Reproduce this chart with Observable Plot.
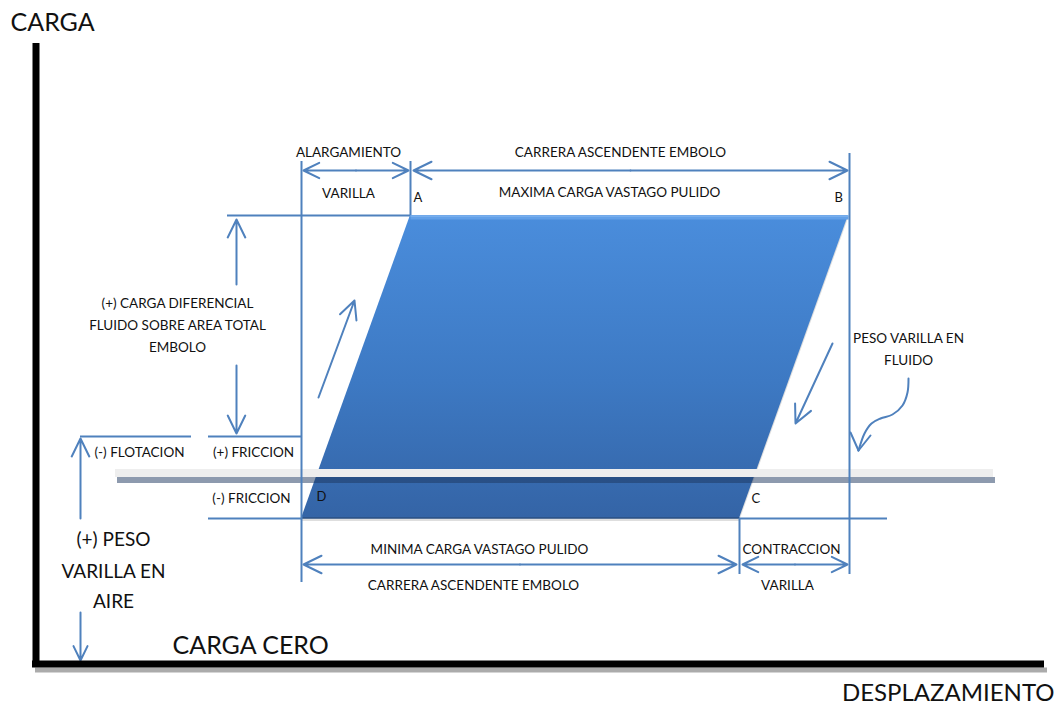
<!DOCTYPE html>
<html><head><meta charset="utf-8">
<script src="https://cdn.jsdelivr.net/npm/d3@7"></script>
<script src="https://cdn.jsdelivr.net/npm/@observablehq/plot@0.6"></script>
<style>
html,body{margin:0;padding:0;background:#fff;}
#chart{width:1061px;height:707px;overflow:hidden;}
</style></head><body><div id="chart"></div>
<script>
// ---- Diagram data (displacement along x, load along y; y grows downward) ----
const cardVertices = [
  {name: "A", x: 410, y: 215},
  {name: "B", x: 848, y: 215},
  {name: "C", x: 739, y: 518},
  {name: "D", x: 301, y: 518}
];
const vertexLabels = [
  {text: "A", x: 413, y: 197},
  {text: "B", x: 834, y: 197},
  {text: "D", x: 316, y: 496},
  {text: "C", x: 751, y: 498}
];
const loadAxis = [{x: 35.5, y1: 43, y2: 664}];
const dispAxis = [{y: 663.5, x1: 32, x2: 1044}];
const zeroBar = [{x1: 115, x2: 993, y1: 469, y2: 477}];
const zeroBarShade = [{x1: 117, x2: 995, y1: 477, y2: 483}];

const guideV = [
  {x: 301, y1: 161, y2: 582},
  {x: 410, y1: 161, y2: 215},
  {x: 849, y1: 153, y2: 574},
  {x: 739, y1: 518, y2: 574}
];
const guideH = [
  {y: 215, x1: 227, x2: 410},
  {y: 436, x1: 80, x2: 191},
  {y: 436, x1: 208, x2: 301},
  {y: 518, x1: 208, x2: 301},
  {y: 518, x1: 739, x2: 887}
];
const dimensions = [
  {y: 170, x1: 303, x2: 408},
  {y: 170, x1: 413, x2: 847},
  {y: 564, x1: 303, x2: 736},
  {y: 564, x1: 742, x2: 847}
];
const singleArrows = [
  {x1: 236, y1: 284, x2: 236, y2: 219},
  {x1: 236, y1: 365, x2: 236, y2: 433},
  {x1: 80, y1: 518, x2: 80, y2: 438},
  {x1: 80, y1: 612, x2: 80, y2: 660},
  {x1: 318, y1: 397, x2: 354, y2: 300},
  {x1: 832, y1: 343, x2: 795, y2: 423}
];
const curvyPath = [
  {x: 908, y: 378}, {x: 907, y: 392}, {x: 902, y: 405}, {x: 892, y: 414},
  {x: 880, y: 418}, {x: 871, y: 423}, {x: 864, y: 433}, {x: 858, y: 450}
];
const curvyHead = [
  {x1: 858, y1: 450, x2: 850, y2: 432},
  {x1: 858, y1: 450, x2: 870, y2: 435}
];

const smallLabels = [
  {text: "ALARGAMIENTO", x: 348, y: 152},
  {text: "VARILLA", x: 348, y: 193},
  {text: "CARRERA ASCENDENTE EMBOLO", x: 620, y: 152},
  {text: "MAXIMA CARGA VASTAGO PULIDO", x: 609, y: 192},
  {text: "(+) CARGA DIFERENCIAL", x: 177, y: 303},
  {text: "FLUIDO SOBRE AREA TOTAL", x: 177, y: 325},
  {text: "EMBOLO", x: 177, y: 347},
  {text: "PESO VARILLA EN", x: 908, y: 338},
  {text: "FLUIDO", x: 908, y: 360},
  {text: "(-) FLOTACION", x: 139, y: 452},
  {text: "(+) FRICCION", x: 253, y: 452},
  {text: "(-) FRICCION", x: 251, y: 498},
  {text: "MINIMA CARGA VASTAGO PULIDO", x: 479, y: 549},
  {text: "CARRERA ASCENDENTE EMBOLO", x: 473, y: 585},
  {text: "CONTRACCION", x: 791, y: 549},
  {text: "VARILLA", x: 787, y: 585}
];
const mediumLabels = [
  {text: "(+) PESO", x: 113, y: 539},
  {text: "VARILLA EN", x: 113, y: 571},
  {text: "AIRE", x: 113, y: 601}
];
const axisTitles = [
  {text: "CARGA", x: 10, y: 22, anchor: "start"},
  {text: "CARGA CERO", x: 172, y: 645, anchor: "start"},
  {text: "DESPLAZAMIENTO", x: 1054, y: 693, anchor: "end"}
];

// ---- derived tables ----
const byName = Object.fromEntries(cardVertices.map(d => [d.name, d]));
const cardArea = [
  {y: byName.A.y, x1: byName.A.x, x2: byName.B.x},
  {y: byName.D.y, x1: byName.D.x, x2: byName.C.x}
];
const topEdge = [{x1: byName.A.x, y1: byName.A.y, x2: byName.B.x, y2: byName.B.y}];
const bottomEdge = [{x1: byName.D.x, y1: byName.D.y, x2: byName.C.x, y2: byName.C.y}];
const dimArrows = dimensions.flatMap(d => {
  const m = (d.x1 + d.x2) / 2;
  return [{x1: m, x2: d.x1, y: d.y}, {x1: m, x2: d.x2, y: d.y}];
});

const BLUE = "#4f81bd";

const defs = () => {
  const s = d3.create("svg:defs");
  const g = s.append("linearGradient").attr("id", "cardFill")
    .attr("x1", 0).attr("y1", 0).attr("x2", 0).attr("y2", 1);
  g.append("stop").attr("offset", "0%").attr("stop-color", "#4a8ddc");
  g.append("stop").attr("offset", "55%").attr("stop-color", "#3d79c3");
  g.append("stop").attr("offset", "100%").attr("stop-color", "#3464a6");
  return s.node();
};

const chart = Plot.plot({
  width: 1061,
  height: 707,
  margin: 0,
  x: {domain: [0, 1061], range: [0, 1061], axis: null},
  y: {domain: [0, 707], range: [0, 707], axis: null},
  style: {fontFamily: "Lato, 'Open Sans', sans-serif", background: "white", color: "#111"},
  marks: [
    defs,
    // card shadow
    Plot.areaX(cardArea, {y: "y", x1: "x1", x2: "x2", fill: "#7a7a7a", fillOpacity: 0.25, dy: 3}),
    // card body
    Plot.areaX(cardArea, {y: "y", x1: "x1", x2: "x2", fill: "url(#cardFill)"}),
    Plot.link(topEdge, {x1: "x1", y1: "y1", x2: "x2", y2: "y2", stroke: "#62a0e8", strokeWidth: 4, dy: 2}),
    Plot.link(topEdge, {x1: "x1", y1: "y1", x2: "x2", y2: "y2", stroke: "#8cbcf2", strokeWidth: 1, dy: 0.5}),
    Plot.link(bottomEdge, {x1: "x1", y1: "y1", x2: "x2", y2: "y2", stroke: "#2a4f82", strokeWidth: 1.5, dy: -0.5}),
    // zero-load bar
    Plot.rect(zeroBar, {x1: "x1", x2: "x2", y1: "y1", y2: "y2", fill: "#eeeeee"}),
    Plot.rect(zeroBarShade, {x1: "x1", x2: "x2", y1: "y1", y2: "y2", fill: "#1c365e", fillOpacity: 0.5}),
    // guide lines
    Plot.ruleX(guideV, {x: "x", y1: "y1", y2: "y2", stroke: BLUE, strokeWidth: 2}),
    Plot.ruleY(guideH, {y: "y", x1: "x1", x2: "x2", stroke: BLUE, strokeWidth: 2}),
    // arrows
    Plot.arrow(dimArrows, {x1: "x1", x2: "x2", y1: "y", y2: "y", stroke: BLUE, strokeWidth: 2, headLength: 15, headAngle: 52}),
    Plot.arrow(singleArrows, {x1: "x1", y1: "y1", x2: "x2", y2: "y2", stroke: BLUE, strokeWidth: 2, headLength: 15, headAngle: 52}),
    Plot.line(curvyPath, {x: "x", y: "y", curve: "catmull-rom", stroke: BLUE, strokeWidth: 2}),
    Plot.link(curvyHead, {x1: "x1", y1: "y1", x2: "x2", y2: "y2", stroke: BLUE, strokeWidth: 2, strokeLinecap: "round"}),
    // axes
    Plot.ruleY(dispAxis, {y: "y", x1: "x1", x2: "x2", stroke: "#ababab", strokeWidth: 5, dx: 3, dy: 6}),
    Plot.ruleX(loadAxis, {x: "x", y1: "y1", y2: "y2", stroke: "#000", strokeWidth: 7}),
    Plot.ruleY(dispAxis, {y: "y", x1: "x1", x2: "x2", stroke: "#000", strokeWidth: 7}),
    // labels
    Plot.text(smallLabels, {x: "x", y: "y", text: "text", fontSize: 13.5, fill: "#111", textAnchor: "middle"}),
    Plot.text(vertexLabels, {x: "x", y: "y", text: "text", fontSize: 13, fill: "#111", textAnchor: "start"}),
    Plot.text(mediumLabels, {x: "x", y: "y", text: "text", fontSize: 19, fill: "#111", textAnchor: "middle"}),
    Plot.text(axisTitles.filter(d => d.anchor === "start"), {x: "x", y: "y", text: "text", fontSize: 25, fill: "#111", textAnchor: "start"}),
    Plot.text(axisTitles.filter(d => d.anchor === "end"), {x: "x", y: "y", text: "text", fontSize: 24, fill: "#111", textAnchor: "end"})
  ]
});
document.getElementById("chart").appendChild(chart);
</script>
</body></html>
